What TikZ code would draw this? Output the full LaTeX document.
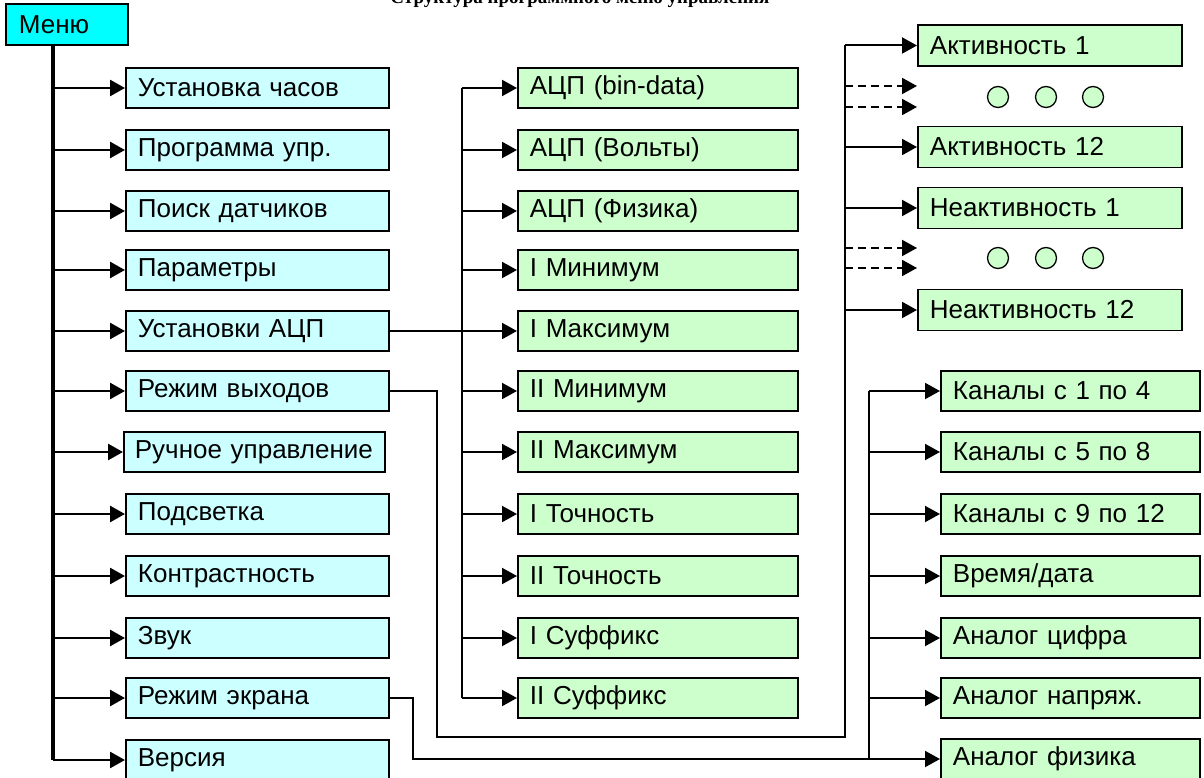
\documentclass[tikz,border=0pt]{standalone}
\usepackage{fontspec}
\setmainfont{Liberation Sans}
\newfontfamily\titlefont{Liberation Serif}
\usetikzlibrary{arrows.meta}
\definecolor{menucyan}{HTML}{00FFFF}
\definecolor{lblue}{HTML}{CCFFFF}
\definecolor{lgreen}{HTML}{CCFFCC}
\begin{document}
\begin{tikzpicture}
[
x=1pt, y=-1pt,
box0/.style={rectangle, draw=black, fill=menucyan, line width=1.8pt, minimum height=41pt, text width=96pt, inner xsep=13pt, align=left, anchor=west, font=\fontsize{26}{30}\selectfont},
box1/.style={rectangle, draw=black, fill=lblue, line width=1.8pt, minimum height=40pt, text width=239pt, inner xsep=12pt, align=left, anchor=west, font=\fontsize{26}{30}\selectfont},
box2/.style={rectangle, draw=black, fill=lgreen, line width=1.8pt, minimum height=40pt, text width=256pt, inner xsep=12pt, align=left, anchor=west, font=\fontsize{26}{30}\selectfont},
box3/.style={box2, text width=240pt, minimum height=41pt},
box4/.style={box2, text width=235pt},
dot1/.style={circle, draw=black, fill=lgreen, line width=1.3pt, minimum size=21pt, inner sep=0pt},
myarrow1/.style={-{Triangle[length=15pt,width=16pt]}, line width=2.6pt},
myarrow2/.style={-{Triangle[length=15pt,width=16pt]}, line width=2pt},
link/.style={line width=1.6pt},
]
\useasboundingbox (0,0) rectangle (1204,778);

% title, cut off at the top edge
\begin{scope}
\clip (0,0) rectangle (1204,9);
\node at (580,4) [anchor=base, inner sep=0pt, font=\titlefont\bfseries\fontsize{19}{22}\selectfont] (title) {Структура программного меню управления};
\end{scope}

\node at (5,24.5) [box0] (menu) {Меню};

\node at (125,88) [box1] (clk) {Установка часов};
\node at (125,150) [box1] (prog) {Программа упр.};
\node at (125,211) [box1] (find) {Поиск датчиков};
\node at (125,270) [box1] (par) {Параметры};
\node at (125,331) [box1] (adc) {Установки АЦП};
\node at (125,391) [box1] (outm) {Режим выходов};
\node at (123,452) [box1, inner xsep=11pt] (hand) {\mbox{Ручное управление}};
\node at (125,514) [box1] (light) {Подсветка};
\node at (125,576) [box1] (contr) {Контрастность};
\node at (125,638) [box1] (snd) {Звук};
\node at (125,698) [box1] (scr) {Режим экрана};
\node at (125,760) [box1] (ver) {Версия};

\node at (517,88) [box2] (bin) {АЦП (bin-data)};
\node at (517,150) [box2] (volt) {АЦП (Вольты)};
\node at (517,211) [box2] (phys) {АЦП (Физика)};
\node at (517,270) [box2] (imin) {I Минимум};
\node at (517,331) [box2] (imax) {I Максимум};
\node at (517,391) [box2] (iimin) {II Минимум};
\node at (517,452) [box2] (iimax) {II Максимум};
\node at (517,514) [box2] (iacc) {I Точность};
\node at (517,576) [box2] (iiacc) {II Точность};
\node at (517,638) [box2] (isuf) {I Суффикс};
\node at (517,698) [box2] (iisuf) {II Суффикс};

\node at (917,45.5) [box3] (act1) {Активность 1};
\node at (917,147) [box3] (act12) {Активность 12};
\node at (917,208) [box3] (nact1) {Неактивность 1};
\node at (917,310) [box3] (nact12) {Неактивность 12};

\node at (998,97) [dot1] (c1) {};
\node at (1046,97) [dot1] (c2) {};
\node at (1093,97) [dot1] (c3) {};
\node at (998,258) [dot1] (c4) {};
\node at (1046,258) [dot1] (c5) {};
\node at (1093,258) [dot1] (c6) {};

\node at (940,391) [box4] (ch1) {Каналы с 1 по 4};
\node at (940,452) [box4] (ch5) {Каналы с 5 по 8};
\node at (940,514) [box4] (ch9) {Каналы с 9 по 12};
\node at (940,576) [box4] (time) {Время/дата};
\node at (940,638) [box4] (adig) {Аналог цифра};
\node at (940,698) [box4] (avolt) {Аналог напряж.};
\node at (940,759) [box4] (aphys) {Аналог физика};

\coordinate (mtop) at (53,45);
\coordinate (midtop) at (462,88);
\coordinate (acttop) at (845,45.5);
\coordinate (chtop) at (869,391);
\coordinate (bend1) at (437,737);
\coordinate (bend2) at (413,759);
\coordinate (d1) at (917,86);
\coordinate (d2) at (917,107);
\coordinate (d3) at (917,248);
\coordinate (d4) at (917,268);

% menu trunk
\draw[black, line width=4pt] (mtop) -- (mtop |- ver.west);
\draw[myarrow1] (mtop |- clk.west) -- (clk.west);
\draw[myarrow1] (mtop |- prog.west) -- (prog.west);
\draw[myarrow1] (mtop |- find.west) -- (find.west);
\draw[myarrow1] (mtop |- par.west) -- (par.west);
\draw[myarrow1] (mtop |- adc.west) -- (adc.west);
\draw[myarrow1] (mtop |- outm.west) -- (outm.west);
\draw[myarrow1] (mtop |- hand.west) -- (hand.west);
\draw[myarrow1] (mtop |- light.west) -- (light.west);
\draw[myarrow1] (mtop |- contr.west) -- (contr.west);
\draw[myarrow1] (mtop |- snd.west) -- (snd.west);
\draw[myarrow1] (mtop |- scr.west) -- (scr.west);
\draw[myarrow1] (mtop |- ver.west) -- (ver.west);

% ADC settings
\draw[link] (adc.east) -- (midtop |- imax.west);
\draw[link, line width=2pt] (midtop) -- (midtop |- iisuf.west);
\draw[myarrow2] (midtop) -- (bin.west);
\draw[myarrow2] (midtop |- volt.west) -- (volt.west);
\draw[myarrow2] (midtop |- phys.west) -- (phys.west);
\draw[myarrow2] (midtop |- imin.west) -- (imin.west);
\draw[myarrow2] (midtop |- imax.west) -- (imax.west);
\draw[myarrow2] (midtop |- iimin.west) -- (iimin.west);
\draw[myarrow2] (midtop |- iimax.west) -- (iimax.west);
\draw[myarrow2] (midtop |- iacc.west) -- (iacc.west);
\draw[myarrow2] (midtop |- iiacc.west) -- (iiacc.west);
\draw[myarrow2] (midtop |- isuf.west) -- (isuf.west);
\draw[myarrow2] (midtop |- iisuf.west) -- (iisuf.west);

% outputs
\draw[link] (outm.east) -| (bend1) -- (bend1 -| acttop) -- (acttop);
\draw[myarrow2] (acttop) -- (act1.west);
\draw[myarrow2, dash pattern=on 8pt off 5pt] (acttop |- d1) -- (d1);
\draw[myarrow2, dash pattern=on 8pt off 5pt] (acttop |- d2) -- (d2);
\draw[myarrow2] (acttop |- act12.west) -- (act12.west);
\draw[myarrow2] (acttop |- nact1.west) -- (nact1.west);
\draw[myarrow2, dash pattern=on 8pt off 5pt] (acttop |- d3) -- (d3);
\draw[myarrow2, dash pattern=on 8pt off 5pt] (acttop |- d4) -- (d4);
\draw[myarrow2] (acttop |- nact12.west) -- (nact12.west);

% screen
\draw[link] (scr.east) -| (bend2) -- (bend2 -| chtop) -- (chtop);
\draw[myarrow2] (chtop) -- (ch1.west);
\draw[myarrow2] (chtop |- ch5.west) -- (ch5.west);
\draw[myarrow2] (chtop |- ch9.west) -- (ch9.west);
\draw[myarrow2] (chtop |- time.west) -- (time.west);
\draw[myarrow2] (chtop |- adig.west) -- (adig.west);
\draw[myarrow2] (chtop |- avolt.west) -- (avolt.west);
\draw[myarrow2] (chtop |- aphys.west) -- (aphys.west);

\end{tikzpicture}
\end{document}
